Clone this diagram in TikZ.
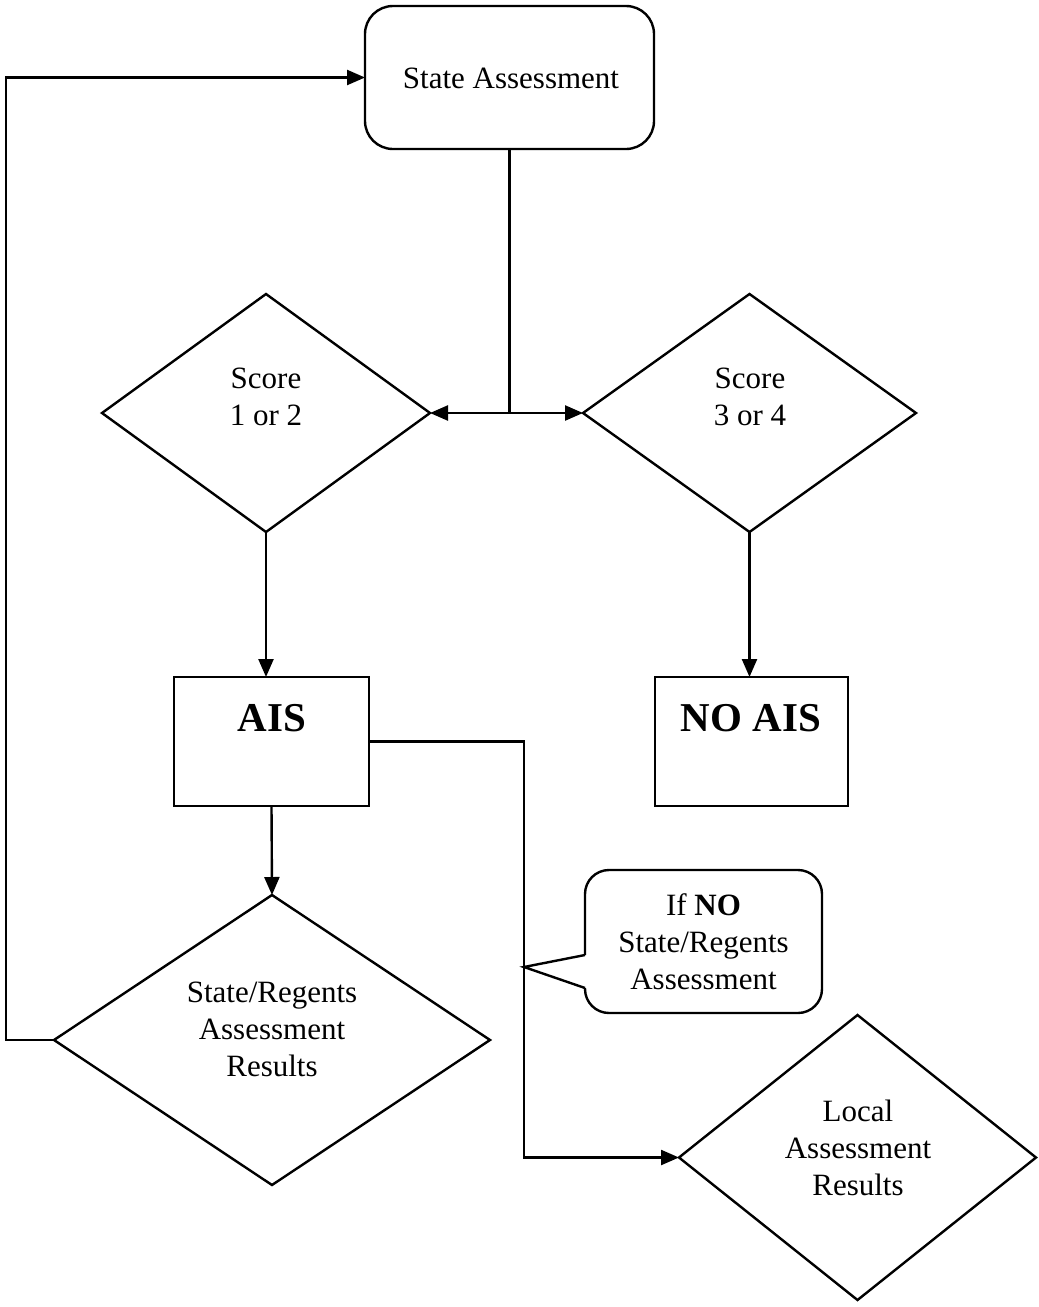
\documentclass[tikz,border=0pt]{standalone}
\usepackage{fontspec}
\setmainfont{Liberation Serif}
\usetikzlibrary{arrows.meta,shapes.geometric}
\begin{document}
\begin{tikzpicture}[x=1pt,y=-1pt,
  line width=2.4pt,
  arr/.style={-{Triangle[length=18pt,width=15pt]}},
  dia/.style={draw,diamond,inner sep=0pt,outer sep=0pt},
  box/.style={draw,rectangle,inner sep=0pt,outer sep=0pt},
  txt/.style={font=\fontsize{31}{37}\selectfont,align=center,inner sep=0pt},
  big/.style={font=\fontsize{41}{48}\selectfont\bfseries,inner sep=0pt}]
\useasboundingbox (0,0) rectangle (1039,1307);

% nodes
\node[box,rounded corners=28pt,minimum width=289pt,minimum height=143pt] (sa) at (509.5,77.5) {};
\node[txt] (satxt) at (511,78) {State Assessment};

\node[dia,minimum width=328pt,minimum height=238pt] (d1) at (266,413) {};
\node[txt] (d1t) at (266,397) {Score\\1 or 2};

\node[dia,minimum width=333pt,minimum height=238pt] (d2) at (749.5,413) {};
\node[txt] (d2t) at (750,397) {Score\\3 or 4};

\node[box,minimum width=195pt,minimum height=129pt] (ais) at (271.5,741.5) {};
\node[big] (aist) at (272,718) {AIS};

\node[box,minimum width=193pt,minimum height=129pt] (noais) at (751.5,741.5) {};
\node[big] (noaist) at (751,718) {NO AIS};

\node[dia,minimum width=436pt,minimum height=290pt] (d3) at (272,1040) {};
\node[txt] (d3t) at (272,1029.5) {State/Regents\\Assessment\\Results};

\node[dia,minimum width=357pt,minimum height=285pt] (d4) at (857.5,1157.5) {};
\node[txt] (d4t) at (858,1147.5) {Local\\Assessment\\Results};

% connectors
\coordinate (j) at (sa.south |- d1.east);
\draw (sa.south) -- (j);
\draw[arr] (j) -- (d1.east);
\draw[arr] (j) -- (d2.west);
\draw[arr] (d1.south) -- (d1.south |- ais.north);
\draw[arr] (d2.south) -- (d2.south |- noais.north);
\draw[arr] (ais.south) -- (d3.north);
\coordinate (lp) at (6,1040);
\draw[arr] (d3.west) -- (lp) |- (sa.west);
\coordinate (rb) at (524,741.5);
\draw[arr] (ais.east) -- (rb) |- (d4.west);

% callout
\coordinate (tip) at (524,967);
\coordinate (cb1) at (585,955);
\coordinate (cb2) at (585,988);
\draw[rounded corners=24pt] (cb1) -- (585,870) -- (822,870) -- (822,1013) -- (585,1013) -- (cb2);
\draw[line join=miter] (cb1) -- (tip) -- (cb2);
\node[txt] (cot) at (703.5,941.5) {If \textbf{NO}\\State/Regents\\Assessment};
\end{tikzpicture}
\end{document}
